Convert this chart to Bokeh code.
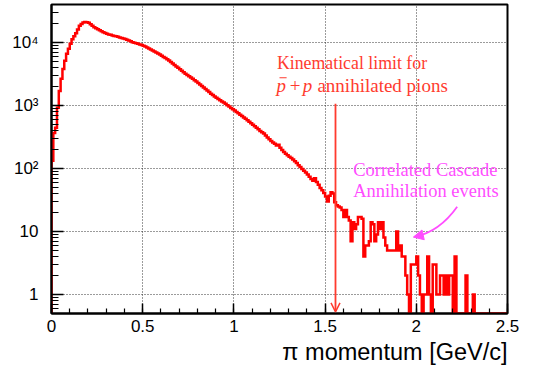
import numpy as np
from bokeh.plotting import figure
from bokeh.models import FixedTicker, Range1d, Arrow, OpenHead, NormalHead, Title
from bokeh.core.properties import value
from bokeh.embed import file_html
from bokeh.resources import INLINE

# ---------------- data ----------------
bin_start = 0.0
bin_width = 0.01
counts = [
    133, 365, 445, 920, 1700, 2650, 3800, 5100, 6600, 7950,
    9550, 11200, 12500, 14000, 16000, 18400, 19600, 20800, 21200, 21000,
    20500, 19500, 18400, 17400, 16800, 16200, 15600, 15000, 14500, 14100,
    13700, 13400, 13200, 12900, 12700, 12500, 12300, 12000, 11800, 11600,
    11300, 11000, 10700, 10400, 10100, 9900, 9700, 9500, 9300, 9100,
    8900, 8600, 8300, 8000, 7700, 7450, 7200, 6950, 6700, 6450,
    6150, 5900, 5650, 5400, 5150, 4900, 4650, 4400, 4150, 3950,
    3750, 3550, 3380, 3200, 3050, 2900, 2770, 2650, 2520, 2400,
    2270, 2150, 2030, 1920, 1820, 1720, 1630, 1540, 1460, 1390,
    1330, 1270, 1210, 1160, 1110, 1060, 1010, 960, 910, 870,
    830, 790, 750, 715, 680, 645, 615, 580, 550, 520,
    495, 470, 445, 420, 395, 375, 360, 335, 310, 290,
    272, 258, 246, 232, 238, 214, 196, 183, 172, 162,
    154, 147, 139, 130, 122, 113, 106, 98, 92, 86,
    80, 74, 68, 64, 70, 61, 55, 49, 45, 41,
    36, 30, 37, 42, 40, 29, 26, 25, 24, 22,
    17, 22, 17, 15, 7, 14, 11, 13, 17, 17,
    16, 4, 6, 6, 7, 14, 13, 7, 9, 14,
    11, 14, 8, 6, 5, 5, 5, 5, 5, 10,
    5, 6, 4, 4, 2, 1, 0, 3, 3, 3,
    4, 2, 1, 0, 1, 1, 4, 1, 0, 3,
    3, 1, 1, 2, 2, 1, 2, 1, 2, 2,
    0, 4, 0, 0, 0, 0, 0, 2, 0, 0,
    0, 1, 0, 0, 0, 0, 0, 0, 0, 0,
    0, 0, 0, 0, 0, 0, 0, 0, 0, 0,
]

x_ticks = [0, 0.5, 1, 1.5, 2, 2.5]
x_tick_labels = ["0", "0.5", "1", "1.5", "2", "2.5"]
y_ticks = [1, 10, 100, 1000, 10000]
y_tick_labels = ["1", "10", "10\u00b2", "10\u00b3", "10\u2074"]
x_title = "\u03c0 momentum [GeV/c]"

x_min, x_max = 0.0, 2.5
y_min, y_max = 0.5, 40000

kin_limit_x = 1.557          # kinematical limit arrow position
kin_arrow_top = 1064

kin_line1 = "Kinematical limit for"
kin_line2 = "annihilated pions"
mag_lines = ["Correlated Cascade", "Annihilation events"]

kin_color = "#ff3b2f"
mag_color = "#ff4dff"

# ---------------- figure ----------------
p = figure(width=533, height=373,
           x_range=Range1d(x_min, x_max), y_range=Range1d(y_min, y_max),
           y_axis_type="log", output_backend="svg", toolbar_location=None,
           min_border_left=51, min_border_right=26, min_border_top=4,
           min_border_bottom=60)
p.background_fill_color = "white"
p.border_fill_color = "white"
p.outline_line_color = "black"
p.outline_line_width = 2

x_minor = [round(0.1 * i, 2) for i in range(26)]
y_minor = [m * 10.0 ** d for d in range(-1, 5) for m in range(2, 10)
           if y_min <= m * 10.0 ** d <= y_max]

p.xaxis.ticker = FixedTicker(ticks=x_ticks, minor_ticks=x_minor)
p.yaxis.ticker = FixedTicker(ticks=y_ticks, minor_ticks=y_minor)
p.xaxis.major_label_overrides = {t: l for t, l in zip(x_ticks, x_tick_labels)}
p.yaxis.major_label_overrides = {t: l for t, l in zip(y_ticks, y_tick_labels)}

for ax in (p.xaxis, p.yaxis):
    ax.axis_line_color = "black"
    ax.axis_line_width = 2
    ax.major_tick_line_color = "black"
    ax.minor_tick_line_color = "black"
    ax.major_tick_line_width = 1.5
    ax.minor_tick_line_width = 1.2
    ax.major_tick_out = 0
    ax.minor_tick_out = 0
    ax.major_label_text_font = "Liberation Sans"
    ax.major_label_text_font_size = "17px"
    ax.major_label_text_color = "black"

p.xaxis.major_tick_in = 10
p.xaxis.minor_tick_in = 5
p.yaxis.major_tick_in = 12
p.yaxis.minor_tick_in = 7
p.xaxis.major_label_standoff = 6
p.yaxis.major_label_standoff = 13

# x-axis title, right-aligned at the end of the axis
p.add_layout(Title(text=x_title, align="right", text_font="Liberation Sans",
                   text_font_size="23.5px", text_font_style="normal",
                   text_color="black", standoff=5, offset=0), "below")

p.xgrid.ticker = FixedTicker(ticks=x_ticks)
p.ygrid.ticker = FixedTicker(ticks=y_ticks)
for g in (p.xgrid, p.ygrid):
    g.grid_line_color = "#222222"
    g.grid_line_dash = "1 2"
    g.grid_line_width = 1
    g.grid_line_alpha = 0.9

# ---------------- histogram ----------------
c = np.array(counts, dtype=float)
n = len(c)
edges = bin_start + bin_width * np.arange(n + 1)
c_draw = np.maximum(c, y_min)
xs = np.repeat(edges, 2)
ys = np.concatenate([[y_min], np.repeat(c_draw, 2), [y_min]])
p.line(xs, ys, line_color="#ff0000", line_width=2.5, line_join="miter")

# ---------------- annotations ----------------
serif = value("Liberation Serif")
p.text(x=[1.236], y=[4680], text=[kin_line1], text_color=kin_color,
       text_font=serif, text_font_size="17.8px",
       text_baseline="alphabetic", text_align="left")
p.text(x=[1.234, 1.378], y=[2092, 2092], text=["p", "p"], text_color=kin_color,
       text_font=serif, text_font_size="19px", text_font_style="italic",
       text_baseline="alphabetic", text_align="left")
p.segment(x0=[1.250], y0=[2754], x1=[1.289], y1=[2754], line_color=kin_color, line_width=1.2)
p.text(x=[1.336], y=[2092], text=["+"], text_color=kin_color,
       text_font=serif, text_font_size="19px",
       text_baseline="alphabetic", text_align="center")
p.text(x=[1.458], y=[2092], text=[kin_line2], text_color=kin_color,
       text_font=serif, text_font_size="19px",
       text_baseline="alphabetic", text_align="left")

p.add_layout(Arrow(end=OpenHead(size=9, line_color=kin_color, line_width=1.5),
                   x_start=kin_limit_x, y_start=kin_arrow_top,
                   x_end=kin_limit_x, y_end=0.531,
                   line_color=kin_color, line_width=1.8))

p.text(x=[1.654, 1.654], y=[94.6, 43.9], text=mag_lines, text_color=mag_color,
       text_font=serif, text_font_size="18.5px",
       text_baseline="alphabetic", text_align="left")

p.quadratic(x0=[2.224], y0=[24.7], x1=[1.990], y1=[8.2], cx=[2.127], cy=[9.9],
            line_color=mag_color, line_width=1.8)
p.add_layout(Arrow(end=NormalHead(size=10, fill_color=mag_color, line_color=mag_color),
                   x_start=2.03, y_start=8.75, x_end=1.984, y_end=8.15,
                   line_color=mag_color, line_width=1.8))

open("out.html", "w").write(file_html(p, INLINE))
